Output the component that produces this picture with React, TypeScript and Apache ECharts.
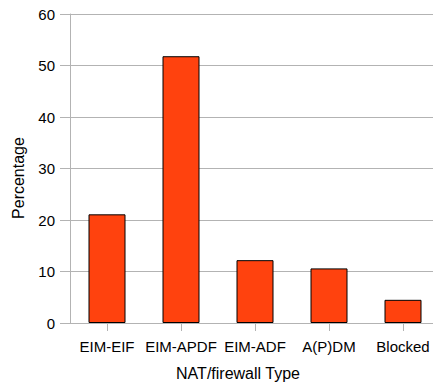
import React, { useEffect, useRef } from "react";
import * as echarts from "echarts";

const categories = ["EIM-EIF", "EIM-APDF", "EIM-ADF", "A(P)DM", "Blocked"];
const percentages = [21.1, 51.8, 12.2, 10.6, 4.5];
const yTicks = { min: 0, max: 60, interval: 10 };
const xTitle = "NAT/firewall Type";
const yTitle = "Percentage";

export default function App() {
  const ref = useRef<HTMLDivElement>(null);
  useEffect(() => {
    if (!ref.current) return;
    const chart = echarts.init(ref.current, undefined, { renderer: "svg" });
    const font = "'Liberation Sans', Arial, sans-serif";
    chart.setOption({
      animation: false,
      backgroundColor: "#ffffff",
      grid: { left: 70, top: 14, right: 0, bottom: 62, containLabel: false },
      xAxis: {
        type: "category",
        data: categories,
        axisLine: { show: true, lineStyle: { color: "#b3b3b3", width: 1 } },
        axisTick: { show: true, alignWithLabel: true, length: 8, lineStyle: { color: "#b3b3b3" } },
        axisLabel: { color: "#000", fontFamily: font, fontSize: 15, margin: 16, interval: 0, hideOverlap: false },
        splitLine: { show: false },
      },
      yAxis: {
        type: "value",
        min: yTicks.min,
        max: yTicks.max,
        interval: yTicks.interval,
        axisLine: { show: true, lineStyle: { color: "#b3b3b3", width: 1 } },
        axisTick: { show: true, length: 10, lineStyle: { color: "#b3b3b3" } },
        axisLabel: { color: "#000", fontFamily: font, fontSize: 15, margin: 15 },
        splitLine: { show: true, lineStyle: { color: "#b3b3b3", width: 1 } },
      },
      series: [
        {
          type: "bar",
          data: percentages,
          barWidth: 37,
          itemStyle: { color: "#ff420e", borderColor: "#000", borderWidth: 1 },
        },
      ],
      graphic: [
        {
          type: "text",
          x: 238,
          y: 373,
          style: {
            text: xTitle,
            fill: "#000",
            font: `16px ${font}`,
            align: "center",
            verticalAlign: "middle",
          },
        },
        {
          type: "text",
          x: 18,
          y: 178,
          rotation: Math.PI / 2,
          style: {
            text: yTitle,
            fill: "#000",
            font: `16px ${font}`,
            align: "center",
            verticalAlign: "middle",
          },
        },
      ],
    });
    return () => chart.dispose();
  }, []);
  return (
    <div
      style={{ position: "fixed", left: 0, top: 0, width: 433, height: 385, overflow: "hidden", background: "#fff" }}
    >
      <div ref={ref} style={{ width: 440, height: 385 }} />
    </div>
  );
}
